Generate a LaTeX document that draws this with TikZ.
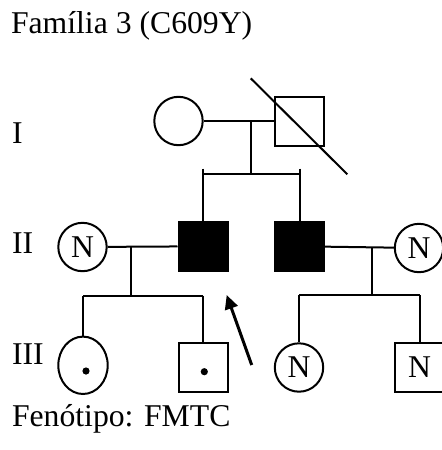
\documentclass[tikz,border=0pt]{standalone}
\usepackage{fontspec}
\setmainfont{Liberation Serif}
\usetikzlibrary{arrows.meta, positioning, calc, shapes.geometric}

\begin{document}
\begin{tikzpicture}[
    x=0.5pt, y=-0.5pt,
    line width=1pt,
    font=\fontsize{15.85}{19}\selectfont,
    male/.style={rectangle, draw, minimum size=24.5pt, inner sep=0pt},
    female/.style={circle, draw, minimum size=24.2pt, inner sep=0pt},
    affected/.style={fill=black},
    carrier/.style={ellipse, draw, minimum width=24.7pt, minimum height=28.7pt, inner sep=0pt},
    dotmark/.style={circle, fill=black, minimum size=3.6pt, inner sep=0pt},
    txt/.style={anchor=base west, inner sep=0pt},
    arrow/.style={-{Triangle[length=7pt, width=6.5pt]}, line width=1.5pt},
]
\useasboundingbox (0,0) rectangle (441,450);

% geracao I
\node[female] (i1) at (178.5,121) {};
\node[male] (i2) at (299,121) {};
% geracao II
\node[female] (ii1) at (82.5,247) {N};
\node[male, affected] (ii2) at (203,246.3) {};
\node[male, affected] (ii3) at (299.5,246.3) {};
\node[female] (ii4) at (419,248) {N};
% geracao III
\node[carrier] (iii1) at (83,365.3) {};
\node[dotmark] (dot1) at (86,371) {};
\node[male] (iii2) at (203,367) {};
\node[dotmark] (dot2) at (204.3,371.7) {};
\node[female] (iii3) at (299,367.5) {N};
\node[male] (iii4) at (419.5,367) {N};

% pontos das linhas
\coordinate (m1) at (250.7,121);
\coordinate (s1) at (250.7,174.3);
\coordinate (m2) at (130.7,247);
\coordinate (s2) at (130.7,295.7);
\coordinate (m3) at (371.7,247);
\coordinate (s3) at (371.7,295);

% casais e filhos
\draw (i1) -- (i2);
\draw (m1) -- (s1);
\draw (ii2 |- s1) -- (ii3 |- s1);
\draw ($(ii2 |- s1)+(0,-5.6)$) -- (ii2);
\draw ($(ii3 |- s1)+(0,-5.6)$) -- (ii3);

\draw (ii1) -- (ii2);
\draw (m2) -- (s2);
\draw (iii1 |- s2) -- (iii2 |- s2);
\draw (iii1 |- s2) -- (iii1);
\draw (iii2 |- s2) -- (iii2);

\draw (ii3) -- (ii4);
\draw (m3) -- (s3);
\draw (iii3 |- s3) -- (iii4 |- s3);
\draw (iii3 |- s3) -- (iii3);
\draw (iii4 |- s3) -- (iii4);

% falecido
\draw ($(i2)+(-48.3,-42.7)$) -- ($(i2)+(48.3,53.3)$);

% probando
\coordinate (arrtail) at (251.7,365);
\coordinate (arrtip) at (226.7,295);
\draw[arrow] (arrtail) -- (arrtip);

% textos
\node[txt] (title) at (10,33) {Família 3 (C609Y)};
\node[txt] (gen1) at (11,143) {I};
\node[txt] (gen2) at (11,253.3) {II};
\node[txt] (gen3) at (11,364) {III};
\node[txt] (pheno) at (11,426.7) {Fenótipo: FMTC};
\end{tikzpicture}
\end{document}
